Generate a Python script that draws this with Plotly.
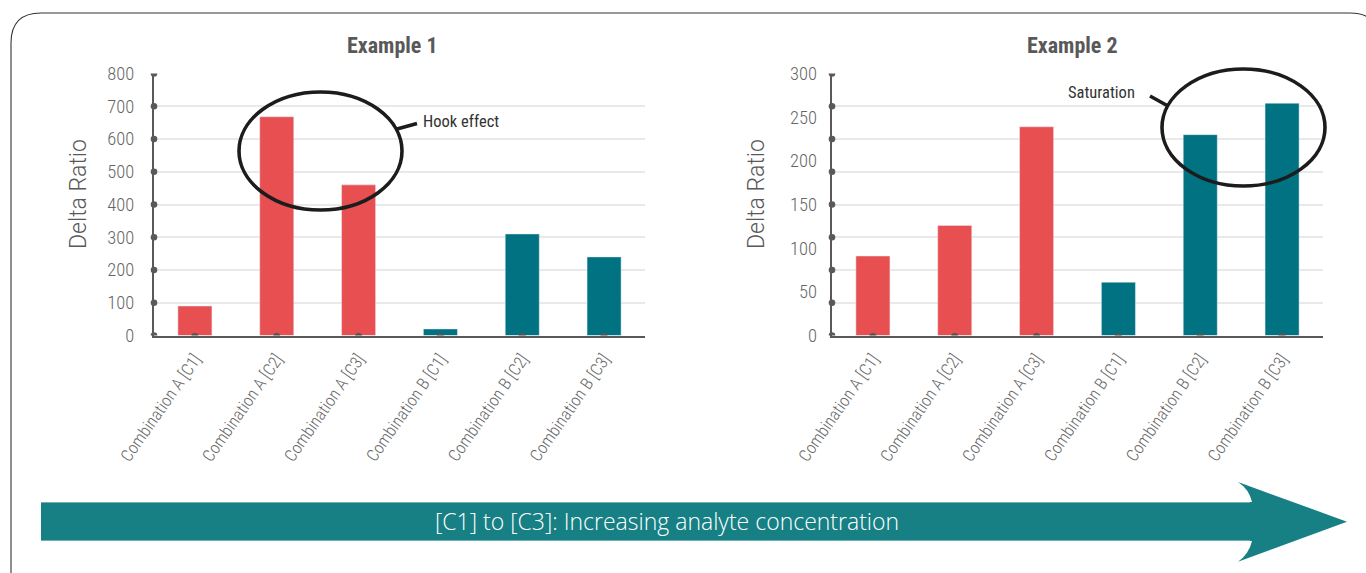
import plotly.graph_objects as go

# ---------------- data ----------------
categories = ["Combination A [C1]", "Combination A [C2]", "Combination A [C3]",
              "Combination B [C1]", "Combination B [C2]", "Combination B [C3]"]
groups = ["A", "A", "A", "B", "B", "B"]
example1_values = [90, 668, 460, 20, 310, 240]
example2_values = [91, 126, 239, 61, 230, 266]
example1_ticks = [0, 100, 200, 300, 400, 500, 600, 700, 800]
example2_ticks = [0, 50, 100, 150, 200, 250, 300]
example2_grid = [0, 37.5, 75, 112.5, 150, 187.5, 225, 262.5, 300]
titles = ["Example 1", "Example 2"]
y_title = "Delta Ratio"
arrow_text = "[C1] to [C3]: Increasing analyte concentration"
callouts = ["Hook effect", "Saturation"]

# ---------------- style ----------------
W, H = 1366, 573
RED = "#E84F51"
TEAL = "#007282"
ARROW = "#168085"
AX = "#595959"
GRID = "#e9e9e9"
COND = "Roboto Condensed, Liberation Sans Narrow, DejaVu Sans Condensed, Arial Narrow, sans-serif"
group_colors = {"A": RED, "B": TEAL}
bar_colors = [group_colors[g] for g in groups]


def X(p):
    return p / W


def Y(p):
    return 1 - p / H


fig = go.Figure()
fig.add_trace(go.Bar(x=categories, y=example1_values, marker_color=bar_colors,
                     width=0.416, xaxis="x", yaxis="y", showlegend=False,
                     hoverinfo="x+y"))
fig.add_trace(go.Bar(x=categories, y=example2_values, marker_color=bar_colors,
                     width=0.416, xaxis="x2", yaxis="y2", showlegend=False,
                     hoverinfo="x+y"))
# dummy trace so that the label-only overlay axis is drawn
fig.add_trace(go.Scatter(x=[categories[0]], y=[None], xaxis="x2", yaxis="y3",
                         showlegend=False, hoverinfo="skip"))

ydom = [Y(335.5), Y(73.5)]
tickfont_x = dict(family=COND, size=17, color="#666666", weight=300)
tickfont_y = dict(family=COND, size=18.5, color="#666666", weight=300)
xcommon = dict(type="category", categoryorder="array", categoryarray=categories,
               range=[-0.5, 5.5], showline=True, linecolor=AX, linewidth=2,
               ticks="", tickangle=-55, ticklabelstandoff=5, automargin=False,
               tickfont=tickfont_x,
               showgrid=False, zeroline=False, fixedrange=True)
ycommon = dict(showline=True, linecolor=AX, linewidth=2, ticks="",
               ticklabelstandoff=14, zeroline=False, fixedrange=True,
               automargin=False, tickfont=tickfont_y,
               gridcolor=GRID, gridwidth=1.5)

fig.update_layout(
    width=W, height=H, autosize=False,
    margin=dict(l=0, r=0, t=0, b=0, pad=0, autoexpand=False),
    paper_bgcolor="white", plot_bgcolor="white",
    xaxis=dict(domain=[X(154), X(645)], anchor="y", **xcommon),
    yaxis=dict(domain=ydom, anchor="x", range=[0, 800], tickmode="array",
               tickvals=example1_ticks, showgrid=True, **ycommon),
    xaxis2=dict(domain=[X(832), X(1323)], anchor="y2", **xcommon),
    yaxis2=dict(domain=ydom, anchor="x2", range=[0, 300], tickmode="array",
                tickvals=example2_grid, showticklabels=False, showgrid=True,
                **ycommon),
    yaxis3=dict(overlaying="y2", anchor="x2", side="left", range=[0, 300],
                tickmode="array", tickvals=example2_ticks, showgrid=False,
                showline=False, ticks="", ticklabelstandoff=14, zeroline=False,
                fixedrange=True, automargin=False, tickfont=tickfont_y),
)

shapes = []
# tick dots on y axes
for xr, yr, vals in [("x domain", "y", example1_ticks), ("x2 domain", "y2", example2_grid)]:
    for v in vals:
        shapes.append(dict(type="circle", xref=xr, yref=yr, xsizemode="pixel",
                           ysizemode="pixel", xanchor=0, yanchor=v,
                           x0=-3.3, x1=3.3, y0=-3.3, y1=3.3,
                           fillcolor=AX, line=dict(width=0), layer="above"))
# tick dots on x axes
for xr, yr in [("x", "y"), ("x2", "y2")]:
    for c in categories:
        shapes.append(dict(type="circle", xref=xr, yref=yr, xsizemode="pixel",
                           ysizemode="pixel", xanchor=c, yanchor=0,
                           x0=-3.6, x1=3.6, y0=-4.6, y1=2.6,
                           fillcolor="#555555", line=dict(width=0), layer="above"))

# callout ellipses and tails
for (x0, y0, x1, y1) in [(239, 92, 402, 210), (1162, 69, 1325, 186)]:
    shapes.append(dict(type="circle", xref="paper", yref="paper",
                       x0=X(x0), x1=X(x1), y0=Y(y1), y1=Y(y0),
                       line=dict(color="#1c1c1c", width=3.6), layer="above"))
for (x0, y0, x1, y1) in [(397, 129, 417, 123.5), (1150, 96, 1168, 106)]:
    shapes.append(dict(type="line", xref="paper", yref="paper",
                       x0=X(x0), x1=X(x1), y0=Y(y0), y1=Y(y1),
                       line=dict(color="#1c1c1c", width=3.6), layer="above"))

# rounded outer frame (runs off the right and bottom edges)
r = 30
L, T, R, B = 11, 13, 1380, 600
frame = (f"M {X(L)},{Y(B)} L {X(L)},{Y(T + r)} Q {X(L)},{Y(T)} {X(L + r)},{Y(T)} "
         f"L {X(R - r)},{Y(T)} Q {X(R)},{Y(T)} {X(R)},{Y(T + r)} L {X(R)},{Y(B)}")
shapes.append(dict(type="path", xref="paper", yref="paper", path=frame,
                   line=dict(color="#333333", width=1.1), layer="below"))

# bottom arrow
arrow = (f"M {X(41)},{Y(502)} L {X(1252)},{Y(502)} Q {X(1249)},{Y(489)} {X(1238)},{Y(482)} "
         f"L {X(1347)},{Y(521.7)} L {X(1238)},{Y(561.7)} Q {X(1249)},{Y(554)} {X(1252)},{Y(541)} "
         f"L {X(41)},{Y(541)} Z")
shapes.append(dict(type="path", xref="paper", yref="paper", path=arrow,
                   fillcolor=ARROW, line=dict(width=0), layer="above"))
for yy in (502.5, 540.5):
    shapes.append(dict(type="line", xref="paper", yref="paper",
                       x0=X(41), x1=X(1250), y0=Y(yy), y1=Y(yy),
                       line=dict(color="#6fb1b3", width=1), layer="above"))
fig.update_layout(shapes=shapes)

ann = []
for t, cx in zip(titles, [392, 1072]):
    ann.append(dict(text=f"<b>{t}</b>", x=X(cx), y=Y(45), xref="paper", yref="paper",
                    showarrow=False, xanchor="center", yanchor="middle",
                    font=dict(family=COND, size=22, color="#595959")))
for cx in [78, 756]:
    ann.append(dict(text=y_title, x=X(cx), y=Y(194), xref="paper", yref="paper",
                    showarrow=False, textangle=-90, xanchor="center", yanchor="middle",
                    font=dict(family="Roboto, Liberation Sans, sans-serif", size=23,
                              color="#595959", weight=300)))
for t, (cx, cy) in zip(callouts, [(421, 122), (1066, 92)]):
    ann.append(dict(text=t, x=X(cx), y=Y(cy), xref="paper", yref="paper",
                    showarrow=False, xanchor="left", yanchor="middle",
                    font=dict(family=COND, size=16.5, color="#333333")))
ann.append(dict(text=arrow_text, x=X(667), y=Y(521), xref="paper", yref="paper",
                showarrow=False, xanchor="center", yanchor="middle",
                font=dict(family="Open Sans, Roboto, Liberation Sans, sans-serif", size=23,
                          color="white", weight=300)))
fig.update_layout(annotations=ann)

fig.write_html("out.html", config={"displayModeBar": False},
               post_script="document.body.style.margin='0';document.body.style.overflow='hidden';")
